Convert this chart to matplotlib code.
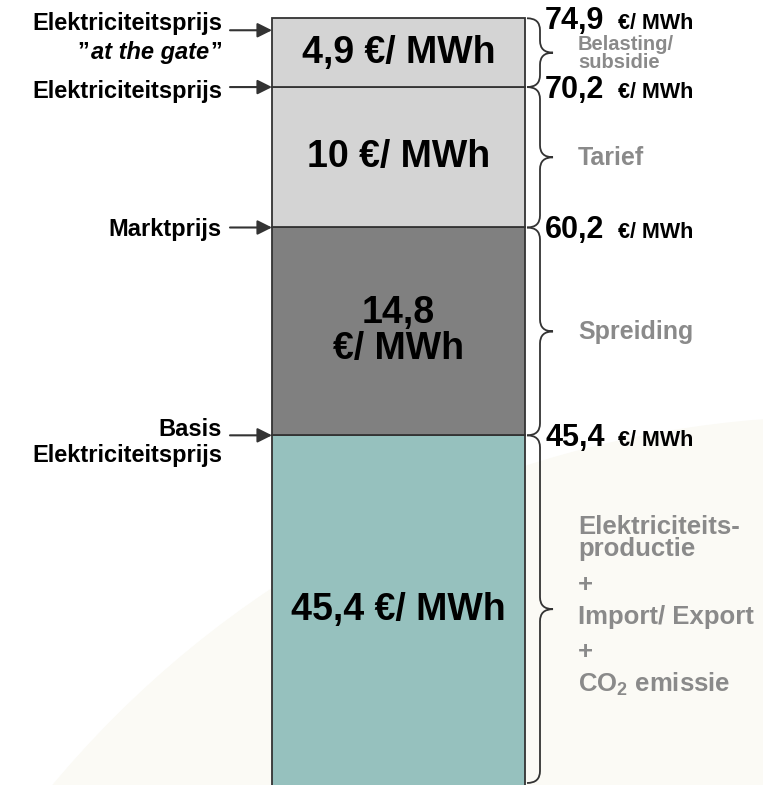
import matplotlib
matplotlib.use("Agg")
import numpy as np
import matplotlib.pyplot as plt
from matplotlib.path import Path
from matplotlib.patches import PathPatch, Ellipse
from matplotlib.offsetbox import TextArea, HPacker, AnnotationBbox

plt.rcParams['font.family'] = ['Liberation Sans', 'DejaVu Sans']
plt.rcParams['font.weight'] = 'bold'
plt.rcParams['mathtext.fontset'] = 'custom'
plt.rcParams['mathtext.rm'] = 'Liberation Sans:bold'
plt.rcParams['mathtext.default'] = 'rm'

# Opbouw van de elektriciteitsprijs (van onder naar boven, in EUR/MWh)
components = ["Basis", "Spreiding", "Tarief", "Belasting/subsidie"]
values = [45.4, 14.8, 10, 4.9]
level_prices = [45.4, 60.2, 70.2, 74.9]
left_labels = ["Basis\nElektriciteitsprijs", "Marktprijs", "Elektriciteitsprijs", "Elektriciteitsprijs"]
right_labels = ["", "Spreiding", "Tarief", "Belasting/\nsubsidie"]
right_sizes = [18.5, 18, 18, 14.5]
bottom_lines = ["Elektriciteits-", "productie", "+", "Import/ Export", "+", "CO$_2$ emissie"]
colors = ["#96c1be", "#808080", "#d4d4d4", "#d4d4d4"]
label_sep = [" ", "\n", " ", " "]

EDGE = "#333333"
GREY = "#8a8a8a"
W, H = 763, 785
YLO, YHI = 20.5, 76.4


def fmt(v):
    return "{:g}".format(v).replace(".", ",")


fig = plt.figure(figsize=(W / 100, H / 100), dpi=100)
fig.add_artist(Ellipse((840 / W, 1 - 1442 / H), 2 * 1025 / W, 2 * 1025 / H,
                       transform=fig.transFigure, color="#fbfaf5", zorder=-1))

ax = fig.add_axes([0, 0, 1, 1])
ax.patch.set_visible(False)
ax.set_xlim(-272 / 253, (W - 272) / 253)   # bar runs from x=0 to x=1
ax.set_ylim(YLO, YHI)
ax.axis("off")
px_y = H / (YHI - YLO)       # pixels per EUR/MWh
yt = ax.get_yaxis_transform()  # x in axes fraction, y in data

bottoms = np.concatenate([[0], np.cumsum(values)[:-1]])
tops = bottoms + np.array(values)
ax.bar(0, values, width=1, bottom=bottoms, align="edge", color=colors,
       edgecolor=EDGE, linewidth=1.3, zorder=2)

# value inside each segment
for i, v in enumerate(values):
    yc = (max(bottoms[i], YLO) + tops[i]) / 2
    ax.text(0.5, yc, fmt(v) + label_sep[i] + "€/ MWh", ha="center", va="center",
            fontsize=27, fontweight="bold", linespacing=1.0, zorder=3)


def brace(y0, y1):
    x0, xm, xt = 527 / W, 540 / W, 553 / W
    r = 12 / px_y
    ym = (y0 + y1) / 2
    verts = [(x0, y1), (xm, y1), (xm, y1 - r),
             (xm, ym + r), (xm, ym), (xt, ym),
             (xm, ym), (xm, ym - r),
             (xm, y0 + r), (xm, y0), (x0, y0)]
    codes = [Path.MOVETO, Path.CURVE3, Path.CURVE3,
             Path.LINETO, Path.CURVE3, Path.CURVE3,
             Path.CURVE3, Path.CURVE3,
             Path.LINETO, Path.CURVE3, Path.CURVE3]
    ax.add_patch(PathPatch(Path(verts, codes), transform=yt, fill=False,
                           edgecolor=EDGE, linewidth=1.3, clip_on=False))
    return ym


for i in range(len(values)):
    ym = brace(max(bottoms[i], YLO + 2 / px_y), tops[i])
    if right_labels[i]:
        ax.annotate(right_labels[i], (578 / W, ym), xycoords=yt,
                    xytext=(0, -1), textcoords="offset pixels", ha="left", va="center",
                    fontsize=right_sizes[i], fontweight="bold", color=GREY,
                    linespacing=0.9)
    else:
        offsets = [82, 60, 24, -8, -43, -75]
        for line, off in zip(bottom_lines, offsets):
            ax.annotate(line, (578 / W, ym), xycoords=yt, xytext=(0, off),
                        textcoords="offset pixels", ha="left", va="center",
                        fontsize=right_sizes[i], fontweight="bold", color=GREY)

# price level to the right of each boundary
for top, price in zip(tops, level_prices):
    big = TextArea(fmt(price), textprops=dict(fontsize=22, fontweight="bold"))
    small = TextArea("€/ MWh", textprops=dict(fontsize=15.5, fontweight="bold"))
    box = HPacker(children=[big, small], align="baseline", pad=0, sep=10)
    ax.add_artist(AnnotationBbox(box, (1, top), xybox=(20, -3), xycoords="data",
                                 boxcoords="offset pixels", box_alignment=(0, 0.5),
                                 frameon=False, annotation_clip=False))

# arrows with names on the left
arrow_props = dict(arrowstyle="-|>", color=EDGE, lw=1.5, mutation_scale=22,
                   shrinkA=0, shrinkB=0)
for i, (top, name) in enumerate(zip(tops, left_labels)):
    y = top
    if i == len(tops) - 1:
        y = top - 12 / px_y
    ax.annotate("", xy=(0, y), xytext=(-42, 0), textcoords="offset pixels",
                arrowprops=arrow_props, annotation_clip=False)
    if i == len(tops) - 1:
        ax.annotate(name, (0, y), xytext=(-50, 7), textcoords="offset pixels",
                    ha="right", va="center", fontsize=17, fontweight="bold")
        q = dict(fontsize=17, fontweight="bold")
        gate = HPacker(children=[TextArea("”", textprops=q),
                                 TextArea("at the gate", textprops=dict(q, style="italic")),
                                 TextArea("”", textprops=q)],
                       align="baseline", pad=0, sep=1)
        ax.add_artist(AnnotationBbox(gate, (0, y), xybox=(-50, -22), xycoords="data",
                                     boxcoords="offset pixels", box_alignment=(1, 0.5),
                                     frameon=False, annotation_clip=False))
    else:
        off = {0: -7, 1: -2, 2: -4}[i]
        ax.annotate(name, (0, y), xytext=(-50, off), textcoords="offset pixels",
                    ha="right", va="center", fontsize=17, fontweight="bold",
                    linespacing=1.15)

fig.savefig("out.png", dpi=100)
